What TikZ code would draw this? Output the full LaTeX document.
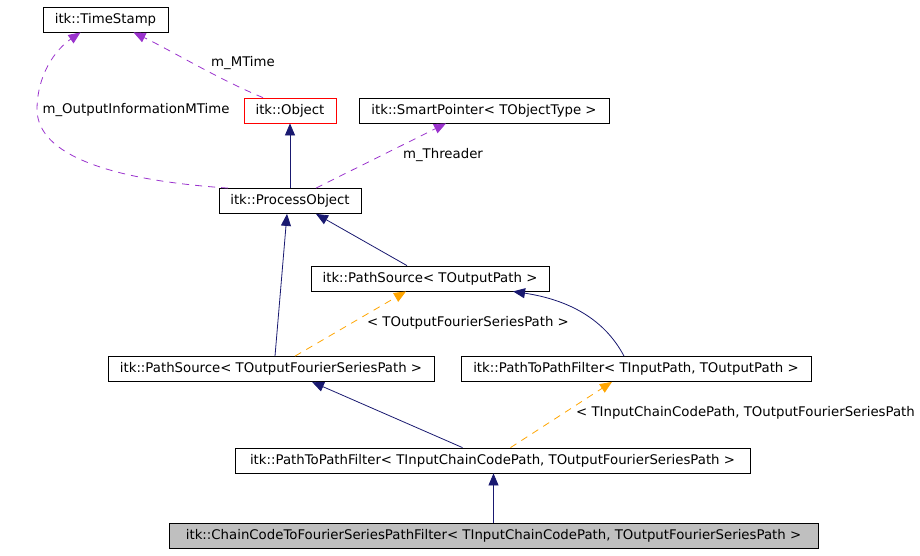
\documentclass[tikz,border=0pt]{standalone}
\usepackage{fontspec}
\setmainfont{DejaVu Sans}
\usetikzlibrary{arrows.meta,calc}
\definecolor{inhblue}{HTML}{191970}
\definecolor{mbrpurple}{HTML}{9A32CD}
\definecolor{tplorange}{HTML}{FFA500}

\begin{document}
\begin{tikzpicture}[x=1pt,y=-1pt,font=\fontsize{13.3}{15}\selectfont,
  klass/.style={draw,line width=0.8pt,minimum height=25pt,inner sep=0pt},
  inherit/.style={draw=inhblue,line width=0.8pt,-{Triangle[length=12pt,width=10pt]}},
  member/.style={draw=mbrpurple,line width=0.8pt,dash pattern=on 7pt off 6pt,-{Triangle[length=12pt,width=10pt]}},
  instance/.style={draw=tplorange,line width=0.8pt,dash pattern=on 7pt off 6pt,-{Triangle[length=12pt,width=10pt]}},
  lbl/.style={inner sep=0pt}]
\useasboundingbox (0,0) rectangle (920,555);
\node[klass,minimum width=125pt] (stamp) at (105.5,19.5) {itk::TimeStamp};
\node[klass,draw=red,minimum width=92pt] (obj) at (290,110.5) {itk::Object};
\node[klass,minimum width=250pt] (smart) at (484,110.5) {itk::SmartPointer< TObjectType >};
\node[klass,minimum width=142pt] (proc) at (290,201) {itk::ProcessObject};
\node[klass,minimum width=238pt] (psout) at (430,278.5) {itk::PathSource< TOutputPath >};
\node[klass,minimum width=326pt] (psfour) at (271,369) {itk::PathSource< TOutputFourierSeriesPath >};
\node[klass,minimum width=350pt] (ppin) at (636,369) {itk::PathToPathFilter< TInputPath, TOutputPath >};
\node[klass,minimum width=515pt] (ppchain) at (492.5,460.5) {itk::PathToPathFilter< TInputChainCodePath, TOutputFourierSeriesPath >};
\node[klass,fill=black!25,minimum width=649pt] (chain) at (493.5,536) {itk::ChainCodeToFourierSeriesPathFilter< TInputChainCodePath, TOutputFourierSeriesPath >};
\draw[member] ($(proc.north)+(-62,0)$) .. controls (110,180) and (38,155) .. (37,110) .. controls (37,75) and (55,50) .. ($(stamp.south)+(-25,0)$);
\draw[member] ($(obj.north)+(-27,0)$) .. controls (220,80) and (170,50) .. ($(stamp.south)+(28,0)$);
\draw[member] ($(proc.north)+(26,0)$) -- ($(smart.south)+(-38,0)$);
\draw[inherit] (proc.north) -- (obj.south);
\draw[inherit] ($(psout.north)+(-23,0)$) -- ($(proc.south)+(26,0)$);
\draw[inherit] ($(psfour.north)+(4,0)$) -- ($(proc.south)+(-3,0)$);
\draw[instance] ($(psfour.north)+(24,0)$) -- ($(psout.south)+(-24,0)$);
\draw[inherit] ($(ppin.north)+(-12,0)$) .. controls (605,320) and (570,300) .. ($(psout.south)+(83,0)$);
\draw[inherit] ($(ppchain.north)+(-30,0)$) -- ($(psfour.south)+(41,0)$);
\draw[instance] ($(ppchain.north)+(18,0)$) -- ($(ppin.south)+(-24,0)$);
\draw[inherit] (chain.north) -- (chain.north |- ppchain.south);
\node[lbl] (lout) at (136,110) {m\_OutputInformationMTime};
\node[lbl] (lmtime) at (243,63) {m\_MTime};
\node[lbl] (lthr) at (443,155) {m\_Threader};
\node[lbl] (lfour) at (468,323) {< TOutputFourierSeriesPath >};
\node[lbl,anchor=west] (lchain) at (576,413) {< TInputChainCodePath, TOutputFourierSeriesPath};
\end{tikzpicture}
\end{document}
